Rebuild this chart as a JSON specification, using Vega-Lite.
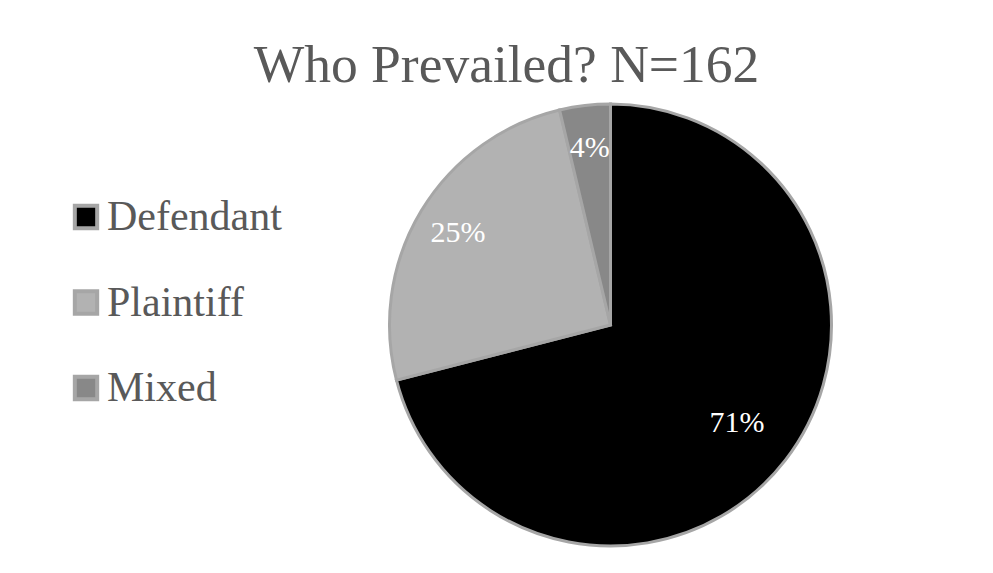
{
  "$schema": "https://vega.github.io/schema/vega-lite/v6.json",
  "autosize": "none",
  "width": 765,
  "height": 496,
  "padding": {"left": 228, "top": 77, "right": 0, "bottom": 0},
  "background": "white",
  "config": {
    "view": {"stroke": null},
    "font": "Liberation Serif"
  },
  "title": {
    "text": "Who Prevailed? N=162",
    "font": "Liberation Serif",
    "fontSize": 53.5,
    "fontWeight": "normal",
    "color": "#595959",
    "anchor": "middle",
    "frame": "group",
    "baseline": "alphabetic",
    "dx": -104,
    "dy": 58,
    "offset": 0
  },
  "data": {
    "values": [
      {"result": "Defendant", "count": 115, "pct": "71%"},
      {"result": "Plaintiff", "count": 41, "pct": "25%"},
      {"result": "Mixed", "count": 6, "pct": "4%"}
    ]
  },
  "encoding": {
    "theta": {"field": "count", "type": "quantitative", "stack": true},
    "order": {"field": "count", "type": "quantitative", "sort": "descending"}
  },
  "layer": [
    {
      "mark": {"type": "arc", "outerRadius": 221, "stroke": "#a6a6a6", "strokeWidth": 3},
      "encoding": {
        "color": {
          "field": "result",
          "type": "nominal",
          "sort": ["Defendant", "Plaintiff", "Mixed"],
          "scale": {"domain": ["Defendant", "Plaintiff", "Mixed"], "range": ["#000000", "#b2b2b2", "#888888"]},
          "legend": {
            "title": null,
            "orient": "none",
            "legendX": -163,
            "legendY": 119,
            "symbolType": "square",
            "symbolSize": 500,
            "symbolStrokeColor": "#a6a6a6",
            "symbolStrokeWidth": 4,
            "labelFont": "Liberation Serif",
            "labelFontSize": 42,
            "labelColor": "#595959",
            "labelOffset": 0,
            "labelLimit": 0,
            "rowPadding": 43.5,
            "padding": 0
          }
        }
      }
    },
    {
      "mark": {"type": "text", "font": "Liberation Serif", "fontSize": 30, "color": "white", "radius": 160},
      "encoding": {
        "text": {"field": "pct"},
        "opacity": {"condition": {"test": "datum.result === 'Defendant'", "value": 1}, "value": 0}
      }
    },
    {
      "mark": {"type": "text", "font": "Liberation Serif", "fontSize": 30, "color": "white", "radius": 178},
      "encoding": {
        "text": {"field": "pct"},
        "opacity": {"condition": {"test": "datum.result === 'Defendant'", "value": 0}, "value": 1}
      }
    }
  ]
}
